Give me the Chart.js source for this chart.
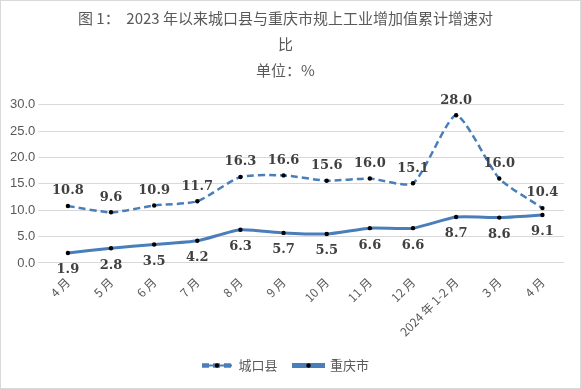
<!DOCTYPE html>
<html>
<head>
<meta charset="utf-8">
<script src="https://cdn.jsdelivr.net/npm/chart.js@4.4.1/dist/chart.umd.min.js"></script>
<style>
  html, body { margin: 0; padding: 0; background: #fff; }
  #wrap { width: 579px; height: 387px; border: 1px solid #d9d9d9; }
</style>
</head>
<body>
<div id="wrap"><canvas id="chart" width="579" height="387"></canvas></div>
<script>
const months = ["4 月", "5 月", "6 月", "7 月", "8 月", "9 月", "10 月", "11 月", "12 月", "2024 年 1-2 月", "3 月", "4 月"];
const chengkou = [10.8, 9.6, 10.9, 11.7, 16.3, 16.6, 15.6, 16.0, 15.1, 28.0, 16.0, 10.4];
const chongqing = [1.9, 2.8, 3.5, 4.2, 6.3, 5.7, 5.5, 6.6, 6.6, 8.7, 8.6, 9.1];
const titleLines = ["图 1：  2023 年以来城口县与重庆市规上工业增加值累计增速对", "比", "单位：%"];

const blue = "#4a7ebb";
const cjk = "'Noto Sans CJK SC', 'Liberation Sans', sans-serif";

// value labels: dashed series above, solid series below
const valueLabels = {
    id: "valueLabels",
    afterDatasetsDraw(chart) {
        const ctx = chart.ctx;
        ctx.save();
        ctx.font = "bold 13px 'DejaVu Serif', serif";
        ctx.fillStyle = "#404040";
        ctx.textAlign = "center";
        ctx.textBaseline = "middle";
        chart.data.datasets.forEach((ds, i) => {
            const meta = chart.getDatasetMeta(i);
            meta.data.forEach((pt, j) => {
                const dy = i === 0 ? -15 : 17;
                ctx.fillText(ds.data[j].toFixed(1), pt.x, pt.y + dy);
            });
        });
        ctx.restore();
    }
};

// small black dot in the middle of each legend line
const legendDots = {
    id: "legendDots",
    afterDraw(chart) {
        const legend = chart.legend;
        if (!legend || !legend.legendHitBoxes) return;
        const ctx = chart.ctx;
        const bw = legend.options.labels.boxWidth;
        ctx.save();
        ctx.fillStyle = "#000";
        legend.legendHitBoxes.forEach(box => {
            ctx.beginPath();
            ctx.arc(box.left + bw / 2, box.top + box.height / 2, 2.2, 0, Math.PI * 2);
            ctx.fill();
        });
        ctx.restore();
    }
};

new Chart(document.getElementById("chart").getContext("2d"), {
    type: "line",
    data: {
        labels: months,
        datasets: [
            {
                label: "城口县",
                data: chengkou,
                borderColor: blue,
                backgroundColor: blue,
                borderWidth: 2.5,
                borderDash: [7, 4],
                tension: 0.2,
                pointRadius: 2.2,
                pointBackgroundColor: "#000",
                pointBorderWidth: 0,
            },
            {
                label: "重庆市",
                data: chongqing,
                borderColor: blue,
                backgroundColor: blue,
                borderWidth: 3,
                tension: 0.2,
                pointRadius: 2.2,
                pointBackgroundColor: "#000",
                pointBorderWidth: 0,
            },
        ],
    },
    options: {
        responsive: false,
        animation: false,
        layout: { padding: { left: 6, right: 16, top: 4, bottom: 6 } },
        plugins: {
            title: {
                display: true,
                text: titleLines,
                color: "#595959",
                font: { family: cjk, size: 15, weight: "normal", lineHeight: 1.75 },
                padding: { top: 0, bottom: 21 },
            },
            legend: {
                position: "bottom",
                labels: {
                    color: "#595959",
                    font: { family: cjk, size: 13 },
                    boxWidth: 30,
                    boxHeight: 2,
                    padding: 16,
                },
            },
            tooltip: { enabled: false },
        },
        scales: {
            x: {
                offset: true,
                grid: { display: false },
                border: { display: false },
                ticks: {
                    color: "#595959",
                    font: { family: cjk, size: 12 },
                    minRotation: 45,
                    maxRotation: 45,
                    autoSkip: false,
                    padding: 4,
                },
            },
            y: {
                min: 0,
                max: 30,
                grid: { color: "#d9d9d9" },
                border: { display: false },
                ticks: {
                    stepSize: 5,
                    color: "#595959",
                    font: { family: "'Liberation Sans', sans-serif", size: 13 },
                    callback: v => v.toFixed(1),
                },
            },
        },
    },
    plugins: [valueLabels, legendDots],
});
</script>
</body>
</html>
